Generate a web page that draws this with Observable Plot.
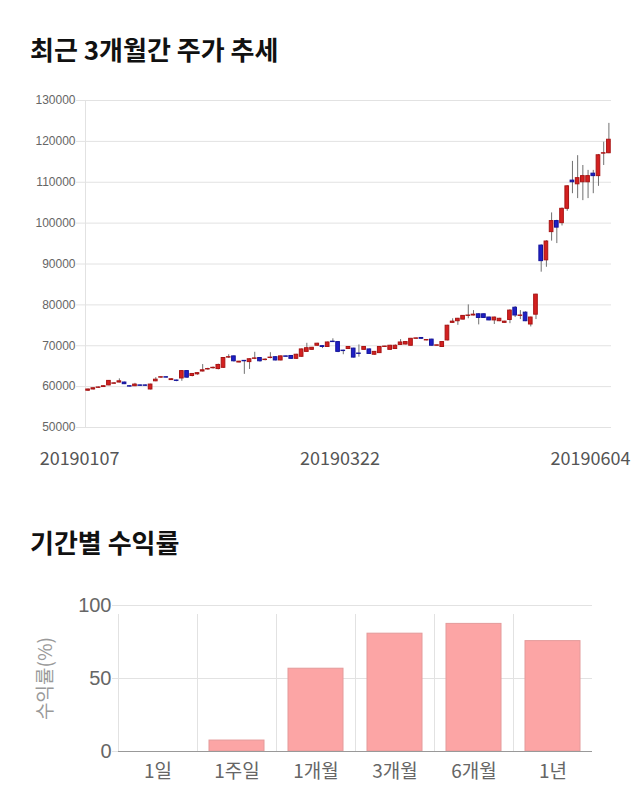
<!DOCTYPE html>
<html><head><meta charset="utf-8">
<script src="https://cdn.jsdelivr.net/npm/d3@7"></script>
<script src="https://cdn.jsdelivr.net/npm/@observablehq/plot@0.6"></script>
<style>
body{margin:0;background:#fff;width:640px;height:810px;position:relative;overflow:hidden;font-family:"Noto Sans CJK KR","Noto Sans",sans-serif;}
.title{position:absolute;left:30px;font-size:26px;font-weight:700;color:#111;line-height:1;white-space:nowrap;}
#c1{position:absolute;left:0;top:80px;}
#c2{position:absolute;left:0;top:585px;}
svg{overflow:visible;}
</style></head><body>
<div class="title" style="top:36px">최근 3개월간 주가 추세</div>
<div id="c1"></div>
<div class="title" style="top:529px">기간별 수익률</div>
<div id="c2"></div>
<script>
const dates = [
"20190107","20190108","20190109","20190110","20190111","20190114","20190115","20190116","20190117","20190118",
"20190121","20190122","20190123","20190124","20190125","20190128","20190129","20190130","20190131",
"20190201","20190207","20190208","20190211","20190212","20190213","20190214","20190215","20190218","20190219",
"20190220","20190221","20190222","20190225","20190226","20190227","20190228",
"20190304","20190305","20190306","20190307","20190308","20190311","20190312","20190313","20190314","20190315",
"20190318","20190319","20190320","20190321","20190322","20190325","20190326","20190327","20190328","20190329",
"20190401","20190402","20190403","20190404","20190405","20190408","20190409","20190410","20190411","20190412",
"20190415","20190416","20190417","20190418","20190419","20190422","20190423","20190424","20190425","20190426",
"20190429","20190430",
"20190502","20190503","20190507","20190508","20190509","20190510","20190513","20190514","20190515","20190516",
"20190517","20190520","20190521","20190522","20190523","20190524","20190527","20190528","20190529","20190530",
"20190531","20190603","20190604"];
const opens = [59000,59300,59700,59900,60300,60700,61000,61000,60100,60100, 60300,60300,59300,61300,62200,62300,61600,61500,62000,63800, 62600,63000,63700,64200,64500,64300,64600,67100,67400,65900, 66300,66000,66800,67000,66500,67000,67200,66400,67400,67500, 66800,67300,68500,69000,70000,69900,69700,71000,70900,68800, 69200,69300,68100,69000,69100,67800,68200,69700,69000,69200, 70200,70300,70000,71700,71900,71300,71500,70000,69700,71300, 75600,76000,76400,77300,77400,77700,77700,76900,76200,76000, 75600,76300,79300,77300,78100,75200,77600,94500,90900,97800, 100500,100000,103500,110400,109500,110000,110000,112100,111500,117000, 117100];
const highs = [59400,59700,59900,60200,61500,61000,61900,61100,60200,60800, 60400,60400,60600,62200,62400,62400,61900,61600,63900,63900, 63200,63400,65400,64500,64800,65500,67100,67800,67500,66200, 66400,66800,68400,67100,66800,68300,67300,67500,67500,67600, 67900,69200,70600,69600,70600,70000,70900,71700,71000,68900, 69800,69400,70200,69800,69200,68600,69800,69900,70100,70200, 71500,71000,71800,71900,72000,71500,71600,70200,71000,75000, 76600,76700,77400,80000,78600,77800,77800,77000,77000,76700, 76000,78800,79600,78600,78300,77000,82600,94700,95700,102500, 100700,103700,109200,115100,116500,114100,112900,112900,116800,119800, 124400];
const lows = [58800,59200,59600,59800,60200,60600,60900,60500,59900,60000, 60100,60100,59200,61200,62000,62100,61500,61200,61300,62000, 62400,62800,63600,64000,64300,64100,64500,66900,66000,65800, 63000,64200,66600,66000,66300,66800,66300,66300,67200,66700, 66700,67200,68400,68900,69900,69300,69600,70800,68300,67800, 69100,67000,67200,68900,67900,67700,68100,69600,68900,69100, 70100,70200,69900,71600,71600,71200,69900,69900,69600,71200, 75500,75000,76300,76600,77300,75100,76700,76100,75200,75900, 75500,75400,76900,76400,75900,74600,76400,88000,89200,95600, 95000,99300,102900,107200,106000,105500,106000,107200,109000,114100, 117000];
const closes = [59300,59600,59800,60100,61400,60800,61300,60600,60000,60500, 60200,60200,60500,61700,62300,62200,61800,61400,63800,62200, 63100,63300,64000,64300,64600,65300,67000,67200,66200,66100, 66200,66700,66900,66200,66600,67100,66400,67400,67300,66800, 67800,69100,69400,69500,70500,69700,70800,70900,68500,68700, 69700,67100,68000,69700,68000,68500,69700,69800,70000,70000, 70800,70900,71700,71800,71700,71400,70000,70100,70900,74900, 75900,76600,77300,77400,77600,76800,76800,76200,76900,76600, 75900,78600,77400,77400,76000,76900,82500,90700,95500,100500, 98900,103500,109000,110000,111000,111500,111500,111500,116600,117100, 120400];
const priceTicks = [50000,60000,70000,80000,90000,100000,110000,120000,130000];
const dateLabels = [dates[0], dates[50]];
const lastDateLabel = [dates[dates.length-1]];

const periods = ["1일","1주일","1개월","3개월","6개월","1년"];
const returns = [0, 7.5, 56.7, 80.7, 87.4, 75.6];
const returnTicks = [0, 50, 100];
const returnLabel = ["수익률(%)"];

const candles = dates.map((date,i)=>({date, open:opens[i], high:highs[i], low:lows[i], close:closes[i]}));
const UP="#d42020", UPS="#a81414", DOWN="#1f1fc6", DOWNS="#14149a";
const numFont = '"Liberation Sans", Arial, sans-serif';
const krFont = '"Noto Sans CJK KR", "Noto Sans", sans-serif';

const chart1 = Plot.plot({
  width:640, height:400, marginTop:20, marginBottom:53, marginLeft:85, marginRight:29,
  style:{fontFamily:krFont, background:"transparent"},
  x:{type:"band", domain:dates, paddingInner:0.3, paddingOuter:0.15, round:false, axis:null},
  y:{domain:[50000,130000]},
  marks:[
    Plot.gridY(priceTicks, {stroke:"#e2e2e2", strokeOpacity:1}),
    Plot.axisY(priceTicks, {tickSize:9, tickPadding:1, stroke:"#e2e2e2", fill:"#666", fontSize:12, fontFamily:numFont, tickFormat:"d", label:null}),
    Plot.frame({anchor:"left", stroke:"#e2e2e2"}),
    Plot.ruleX(candles, {x:"date", y1:"low", y2:"high", stroke:"#707070", strokeWidth:1}),
    Plot.barY(candles, {filter:d=>d.close>=d.open, x:"date", y1:"open", y2:"close", fill:UP, stroke:UPS, strokeWidth:1}),
    Plot.barY(candles, {filter:d=>d.close<d.open, x:"date", y1:"open", y2:"close", fill:DOWN, stroke:DOWNS, strokeWidth:1}),
    Plot.text(dateLabels, {x:d=>d, text:d=>d, frameAnchor:"bottom", lineAnchor:"top", textAnchor:"middle", dy:25, dx:-8.5, fontSize:18, fill:"#555"}),
    Plot.text(lastDateLabel, {x:d=>d, text:d=>d, frameAnchor:"bottom", lineAnchor:"top", textAnchor:"end", dy:25, dx:21.5, fontSize:18, fill:"#555"})
  ]
});
document.getElementById("c1").appendChild(chart1);

const W2=640, ML2=118, MR2=48;
const step2 = (W2-ML2-MR2)/periods.length;
const chart2 = Plot.plot({
  width:W2, height:215, marginTop:20, marginBottom:49, marginLeft:ML2, marginRight:MR2,
  style:{fontFamily:krFont, background:"transparent"},
  x:{type:"band", domain:periods, padding:0, round:false},
  y:{domain:[0,100]},
  marks:[
    Plot.gridY(returnTicks, {stroke:"#e2e2e2", strokeOpacity:1}),
    Plot.ruleX(periods, {x:d=>d, y1:returnTicks[0], y2:returnTicks[returnTicks.length-1], dx:-step2/2, insetBottom:-9, stroke:"#e2e2e2"}),
    Plot.barY(periods, {x:d=>d, y:(d,i)=>returns[i], insetLeft:12, insetRight:12, fill:"#fca5a5", stroke:"#e49a9a", strokeWidth:1}),
    Plot.ruleY([0], {stroke:"#999"}),
    Plot.axisY(returnTicks, {tickSize:6, tickPadding:1, stroke:"#e2e2e2", fill:"#666", fontSize:20, fontFamily:numFont, label:null}),
    Plot.axisX({tickSize:0, tickPadding:13, fontSize:19, fill:"#666", label:null}),
    Plot.text(returnLabel, {frameAnchor:"left", textAnchor:"middle", rotate:-90, dx:-73, fontSize:19, fill:"#999", text:d=>d})
  ]
});
document.getElementById("c2").appendChild(chart2);
</script>
</body></html>
